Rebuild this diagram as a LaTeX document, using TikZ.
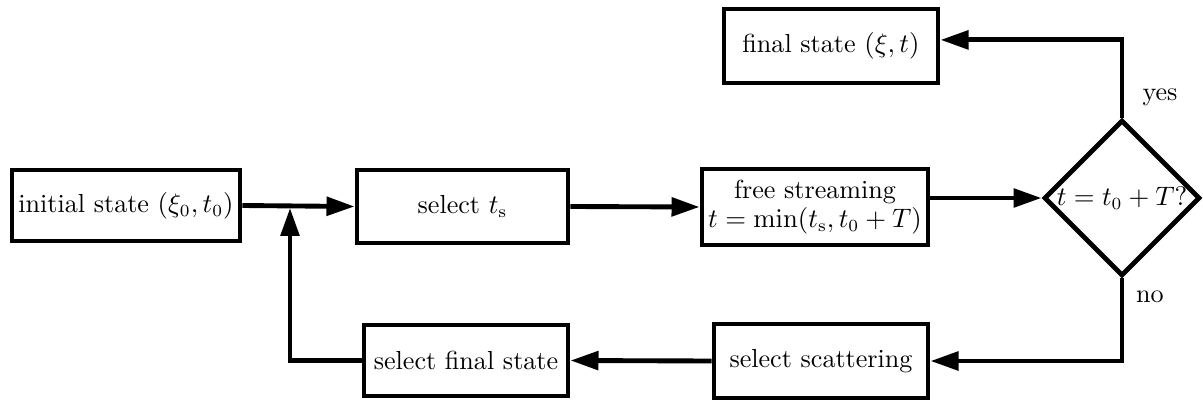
\documentclass[tikz,border=0pt]{standalone}
\usetikzlibrary{shapes.geometric,arrows.meta}
\newlength\ux
\setlength\ux{0.41pt}
\begin{document}
\begin{tikzpicture}[x=0.41pt,y=-0.41pt,
  every node/.style={font=\fontsize{10.7pt}{12.6pt}\selectfont},
  box/.style={draw, line width=2pt, inner sep=0pt, align=center},
  conn/.style={line width=2pt, -{Triangle[length=11.5pt,width=7.5pt]}}]
\useasboundingbox (0,0) rectangle (1203,405);
\node[box, minimum width={228*\ux}, minimum height={71*\ux}] (init) at (126,205.5) {initial state $(\xi_0,t_0)$};
\node[box, minimum width={211*\ux}, minimum height={73*\ux}] (sel) at (462.5,206.5) {select $t_{\mathrm{s}}$};
\node[box, minimum width={226*\ux}, minimum height={76*\ux}] (free) at (815,207) {free streaming\\[-1pt] $t=\min(t_{\mathrm{s}},t_0+T)$};
\node[box, minimum width={214*\ux}, minimum height={74*\ux}] (final) at (831,46) {final state $(\xi,t)$};
\node[box, minimum width={214*\ux}, minimum height={74*\ux}] (scat) at (821,361) {select scattering};
\node[box, minimum width={204*\ux}, minimum height={71*\ux}] (fsel) at (466,360.5) {select final state};
\node[diamond, draw, line width=2pt, inner sep=0pt, minimum width={156*\ux}, minimum height={156*\ux}] (dec) at (1122,198) {};
\node[inner sep=0pt] (dect) at (dec) {$t=t_0+T?$};
\node (yes) at (1160,97) {yes};
\node (no) at (1150,297) {no};
\coordinate (j) at (290,205.5);
\draw[conn] (init.east) -- (sel.west);
\draw[conn] (sel.east) -- (free.west);
\draw[conn] (free.east |- dec.west) -- (dec.west);
\draw[conn] (dec.north) |- ([yshift=2.5pt]final.east);
\draw[conn] (dec.south) |- (scat.east);
\draw[conn] (scat.west) -- (fsel.east);
\draw[conn, shorten >=1pt] (fsel.west) -| (j);
\end{tikzpicture}
\end{document}
